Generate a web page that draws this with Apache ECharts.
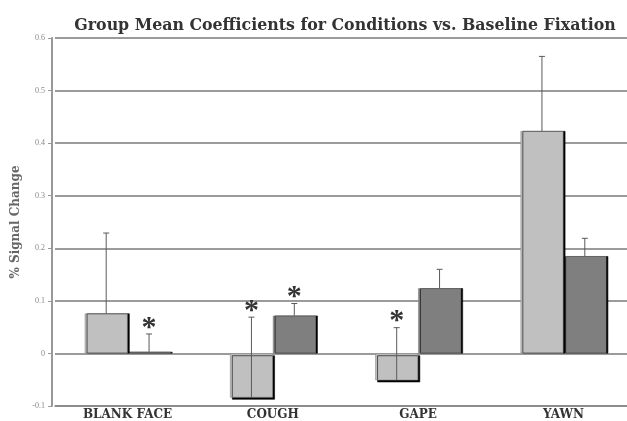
<!DOCTYPE html>
<html><head><meta charset="utf-8">
<script src="https://cdn.jsdelivr.net/npm/echarts@6/dist/echarts.min.js"></script>
<style>html,body{margin:0;padding:0;background:#fff}#c{width:627px;height:421px}</style>
</head><body><div id="c"></div>
<script>
var categories = ['BLANK FACE', 'COUGH', 'GAPE', 'YAWN'];
var lightValues = [0.076, -0.084, -0.051, 0.423];
var lightErrors = [0.153, 0.153, 0.100, 0.142];
var darkValues = [0.003, 0.072, 0.124, 0.185];
var darkErrors = [0.034, 0.023, 0.036, 0.034];
var lightSig = [false, true, true, false];
var darkSig = [true, true, false, false];
var yTicks = [-0.1, 0, 0.1, 0.2, 0.3, 0.4, 0.5, 0.6];

var GAP = 0.41;
function barStyle(color, v) {
  return {
    value: v,
    itemStyle: {
      color: color, borderColor: '#8a8a8a', borderWidth: 0.6,
      shadowColor: '#000', shadowBlur: 0, shadowOffsetX: 2, shadowOffsetY: v < 0 ? 2 : 0
    }
  };
}
function errData(vals, errs, sig) {
  return vals.map(function (v, i) { return [i, v, v + errs[i], sig[i] ? 1 : 0]; });
}
function errSeries(vals, errs, sig, side) {
  return {
    type: 'custom', z: 5, silent: true,
    data: errData(vals, errs, sig),
    encode: { x: 0, y: [1, 2] },
    renderItem: function (params, api) {
      var i = api.value(0);
      var base = api.coord([i, api.value(1)]);
      var top = api.coord([i, api.value(2)]);
      var band = api.size([1, 0])[0];
      var x = base[0] + side * band * (1 - GAP) / 4;
      var children = [
        { type: 'line', shape: { x1: x, y1: base[1], x2: x, y2: top[1] }, style: { stroke: '#5a5a5a', lineWidth: 1 } },
        { type: 'line', shape: { x1: x - 3, y1: top[1], x2: x + 3, y2: top[1] }, style: { stroke: '#5a5a5a', lineWidth: 1 } }
      ];
      if (api.value(3) === 1) {
        children.push({ type: 'text', x: x, y: top[1] - 6, style: {
          text: '*', fill: '#333', font: 'bold 30px "Liberation Serif"', align: 'center', verticalAlign: 'middle'
        }});
      }
      return { type: 'group', children: children };
    }
  };
}

var chart = echarts.init(document.getElementById('c'));
chart.setOption({
  animation: false,
  title: {
    text: 'Group Mean Coefficients for Conditions vs. Baseline Fixation',
    left: 340, top: 13, textAlign: 'center',
    textStyle: { fontFamily: 'DejaVu Serif', fontWeight: 'bold', fontSize: 15.8, color: '#333' }
  },
  grid: { left: 55, top: 38, width: 581, height: 368, outerBoundsMode: 'none', containLabel: false },
  xAxis: {
    type: 'category', data: categories,
    axisLine: { onZero: false, lineStyle: { color: '#888', width: 1.5 } },
    axisTick: { show: false },
    axisLabel: { margin: 3, color: '#333', fontFamily: 'DejaVu Serif', fontWeight: 'bold', fontSize: 12 }
  },
  yAxis: {
    type: 'value', min: yTicks[0], max: yTicks[yTicks.length - 1], interval: 0.1, offset: 3,
    name: '% Signal Change', nameLocation: 'middle', nameGap: 29,
    nameTextStyle: { fontFamily: 'DejaVu Serif', fontWeight: 'bold', fontSize: 12, color: '#666' },
    axisLine: { show: true, lineStyle: { color: '#999', width: 2 } },
    axisTick: { show: true, length: 4, lineStyle: { color: '#999' } },
    axisLabel: { margin: 7, color: '#888', fontSize: 8, fontFamily: 'Liberation Serif' },
    splitLine: { lineStyle: { color: '#7a7a7a', width: 1.5 } }
  },
  series: [
    { type: 'bar', z: 3, barGap: '0%', barCategoryGap: (GAP * 100) + '%',
      data: lightValues.map(function (v) { return barStyle('#c0c0c0', v); }) },
    { type: 'bar', z: 2, barGap: '0%', barCategoryGap: (GAP * 100) + '%',
      data: darkValues.map(function (v) { return barStyle('#7f7f7f', v); }) },
    errSeries(lightValues, lightErrors, lightSig, -1),
    errSeries(darkValues, darkErrors, darkSig, 1)
  ]
});
</script></body></html>
